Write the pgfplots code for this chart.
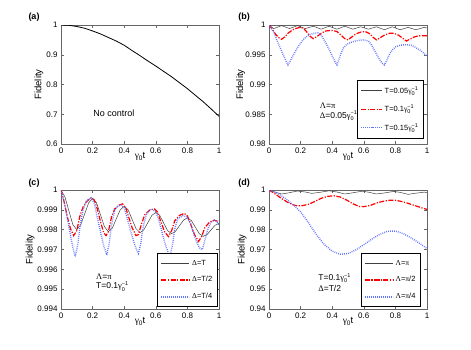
\documentclass[border=0pt]{standalone}
\usepackage{fontspec}
\setmainfont{Liberation Sans}
\newfontfamily\sym{Liberation Serif}
\usepackage{pgfplots}
\pgfplotsset{compat=1.18}

\newcommand{\ssz}{\fontsize{5.5}{6}\selectfont}
\newcommand{\ginv}{{\sym γ}\rlap{\raisebox{-0.5ex}{\ssz 0}}\raisebox{0.8ex}{\ssz −1}}
\definecolor{mblue}{RGB}{95,115,255}

\pgfplotsset{
  panel/.style={
    scale only axis, width=158pt, height=119pt, anchor=north west,
    xmin=0, xmax=1,
    xtick={0,0.2,0.4,0.6,0.8,1}, xticklabels={0,0.2,0.4,0.6,0.8,1},
    tick align=inside, major tick length=3pt,
    axis line style={black!60}, every tick/.style={black!60},
    tick label style={font=\fontsize{8}{9}\selectfont},
    label style={font=\fontsize{9.5}{10}\selectfont},
    xlabel={{\sym γ}\raisebox{-0.5ex}{\fontsize{6.5}{7}\selectfont 0}t}, ylabel={Fidelity},
    xlabel style={at={(axis description cs:0.5,-0.105)}, anchor=center},
    legend cell align=left,
    legend style={draw=none, fill=white, font=\fontsize{7.5}{9}\selectfont,
      row sep=6pt, inner ysep=4pt},
  },
  blk/.style={color=black!75, line width=0.5pt, solid},
  rd/.style={color=red, line width=1.2pt, dash pattern=on 5pt off 1.5pt on 1.2pt off 1.5pt},
  bl/.style={color=mblue, line width=1.4pt, dash pattern=on 0.8pt off 1.2pt},
}

\begin{document}
\begin{tikzpicture}
\path[use as bounding box] (0,0) rectangle (471pt,-349pt);

% (a)
\begin{axis}[panel, at={(61pt,-25pt)}, ymin=0.6, ymax=1,
  ytick={0.6,0.7,0.8,0.9,1}, yticklabels={0.6,0.7,0.8,0.9,1},
  ylabel style={at={(axis description cs:-0.14,0.5)}, anchor=center}]
\addplot[black, line width=0.8pt] coordinates {
(0,1.000) (0.05,0.999) (0.1,0.995) (0.15,0.989) (0.2,0.980) (0.25,0.970)
(0.3,0.958) (0.35,0.946) (0.4,0.932) (0.45,0.914) (0.5,0.897) (0.55,0.879)
(0.6,0.862) (0.65,0.844) (0.7,0.826) (0.75,0.806) (0.8,0.786) (0.85,0.764)
(0.9,0.742) (0.95,0.718) (1.0,0.693)};
\node[font=\fontsize{9}{10}\selectfont] at (axis cs:0.335,0.704) {No control};
\end{axis}

% (b)
\begin{axis}[panel, at={(269pt,-25pt)}, ymin=0.98, ymax=1,
  ytick={0.98,0.985,0.99,0.995,1}, yticklabels={0.98,0.985,0.99,0.995,1},
  ylabel style={at={(axis description cs:-0.18,0.5)}, anchor=center},
  legend style={at={(0.975,0.05)}, anchor=south east, name=Lb},
  legend image code/.code={\draw[mark repeat=2,mark phase=2,#1] plot coordinates {(0pt,0pt) (10.5pt,0pt) (21pt,0pt)};}]
\addplot[blk] coordinates {
(0,1.0000) (0.03,0.9994) (0.08,0.9999) (0.13,0.9994) (0.18,0.9999) (0.23,0.9994)
(0.28,0.9998) (0.33,0.9993) (0.38,0.9998) (0.43,0.9993) (0.48,0.9998) (0.53,0.9993)
(0.58,0.9997) (0.63,0.9993) (0.68,0.9997) (0.73,0.9992) (0.78,0.9997) (0.83,0.9992)
(0.88,0.9996) (0.93,0.9992) (0.98,0.9996) (1.0,0.9995)};
\addplot[rd] coordinates {
(0,1.0) (0.02,0.9993) (0.04,0.9985) (0.06,0.9979) (0.08,0.9976) (0.10,0.9980)
(0.12,0.9986) (0.15,0.9992) (0.18,0.9995) (0.20,0.9996) (0.22,0.9994) (0.24,0.9988)
(0.26,0.9981) (0.28,0.9977) (0.30,0.9980) (0.33,0.9986) (0.36,0.9990) (0.40,0.9991)
(0.43,0.9989) (0.46,0.9982) (0.48,0.9977) (0.50,0.9975) (0.52,0.9979) (0.55,0.9985)
(0.58,0.9988) (0.61,0.9989) (0.64,0.9985) (0.66,0.9979) (0.68,0.9975) (0.70,0.9978)
(0.73,0.9983) (0.76,0.9986) (0.79,0.9986) (0.82,0.9983) (0.85,0.9977) (0.87,0.9973)
(0.89,0.9976) (0.92,0.9980) (0.95,0.9982) (1.0,0.9982)};
\addplot[bl] coordinates {
(0,1.0000) (0.03,0.9988) (0.06,0.9968) (0.09,0.9950) (0.11,0.9938) (0.12,0.9933)
(0.135,0.9940) (0.155,0.9950) (0.185,0.9964) (0.215,0.9975) (0.245,0.9982)
(0.28,0.9986) (0.31,0.9987) (0.33,0.9983) (0.35,0.9974) (0.375,0.9962)
(0.40,0.9948) (0.42,0.9937) (0.43,0.9933) (0.44,0.9940) (0.455,0.9952)
(0.47,0.9961) (0.49,0.9967) (0.52,0.9971) (0.56,0.9974) (0.60,0.9975)
(0.63,0.9973) (0.65,0.9966) (0.67,0.9956) (0.695,0.9944) (0.715,0.9936)
(0.73,0.9933) (0.745,0.9940) (0.76,0.9950) (0.78,0.9958) (0.80,0.9963)
(0.83,0.9966) (0.87,0.9967) (0.90,0.9966) (0.93,0.9962) (0.96,0.9957) (1.0,0.9948)};
\legend{T=0.05\ginv, T=0.1\ginv, T=0.15\ginv}
\node[anchor=west, font=\fontsize{8.5}{10}\selectfont] at (axis cs:0.30,0.9864) {{\sym Λ}={\sym π}};
\node[anchor=west, font=\fontsize{8.5}{10}\selectfont] at (axis cs:0.30,0.9847) {{\sym Δ}=0.05\ginv};
\end{axis}
\draw[line width=0.9pt] (Lb.south west) rectangle (Lb.north east);

% (c)
\begin{axis}[panel, at={(61pt,-190pt)}, ymin=0.994, ymax=1,
  ytick={0.994,0.995,0.996,0.997,0.998,0.999,1},
  yticklabels={0.994,0.995,0.996,0.997,0.998,0.999,1},
  ylabel style={at={(axis description cs:-0.195,0.5)}, anchor=center},
  legend style={at={(0.99,0.02)}, anchor=south east, name=Lc},
  legend image code/.code={\draw[mark repeat=2,mark phase=2,#1] plot coordinates {(0pt,0pt) (14pt,0pt) (28pt,0pt)};}]
\addplot[blk] coordinates {
(0,1.0000) (0.025,0.99965) (0.05,0.99895) (0.075,0.99825) (0.1,0.9980)
(0.125,0.99825) (0.15,0.9988) (0.175,0.99935) (0.2,0.99958) (0.225,0.99935)
(0.25,0.99875) (0.275,0.99815) (0.3,0.9979) (0.325,0.99808) (0.35,0.99855)
(0.375,0.999) (0.4,0.99918) (0.425,0.999) (0.45,0.99852) (0.475,0.99805)
(0.5,0.99785) (0.525,0.998) (0.55,0.99836) (0.575,0.99872) (0.6,0.99887)
(0.625,0.99872) (0.65,0.99833) (0.675,0.99795) (0.7,0.9978) (0.725,0.99792)
(0.75,0.9982) (0.775,0.99848) (0.8,0.9986) (0.825,0.99846) (0.85,0.99813)
(0.875,0.9978) (0.9,0.99766) (0.925,0.99776) (0.95,0.99799) (0.975,0.99822)
(1.0,0.99832)};
\addplot[rd] coordinates {
(0,1.0) (0.02,0.9994) (0.04,0.99865) (0.06,0.99805) (0.08,0.9977) (0.1,0.99795)
(0.12,0.9987) (0.14,0.99915) (0.16,0.9994) (0.19,0.9996) (0.21,0.9995)
(0.23,0.99905) (0.25,0.9984) (0.27,0.99785) (0.285,0.9977) (0.30,0.9979)
(0.32,0.99865) (0.34,0.99905) (0.37,0.99925) (0.39,0.9993) (0.41,0.9991)
(0.43,0.9986) (0.45,0.9981) (0.475,0.9977) (0.49,0.99775) (0.51,0.9983)
(0.53,0.99875) (0.56,0.99898) (0.59,0.99905) (0.61,0.9989) (0.63,0.99845)
(0.655,0.9979) (0.68,0.99765) (0.70,0.99795) (0.72,0.99845) (0.75,0.99872)
(0.78,0.99882) (0.80,0.9987) (0.82,0.9983) (0.845,0.99775) (0.87,0.9974)
(0.89,0.99765) (0.91,0.9981) (0.94,0.99838) (0.97,0.99848) (1.0,0.9984)};
\addplot[bl] coordinates {
(0,1.0) (0.02,0.9994) (0.04,0.99855) (0.06,0.99775) (0.075,0.9971) (0.09,0.99665)
(0.105,0.9972) (0.12,0.99815) (0.14,0.9990) (0.16,0.99945) (0.19,0.9996)
(0.21,0.99935) (0.23,0.9986) (0.25,0.9979) (0.27,0.9972) (0.29,0.99672)
(0.305,0.9973) (0.32,0.99825) (0.34,0.999) (0.36,0.9992) (0.38,0.99924)
(0.40,0.9991) (0.42,0.99855) (0.44,0.99795) (0.46,0.9974) (0.48,0.99695)
(0.49,0.9968) (0.505,0.9973) (0.52,0.99815) (0.54,0.99875) (0.56,0.999)
(0.58,0.99902) (0.60,0.9989) (0.62,0.99845) (0.64,0.99785) (0.66,0.99725)
(0.68,0.9968) (0.69,0.9967) (0.705,0.9972) (0.72,0.99805) (0.74,0.99855)
(0.77,0.9987) (0.795,0.99866) (0.82,0.9983) (0.84,0.9978) (0.86,0.99735)
(0.88,0.99705) (0.895,0.9970) (0.91,0.99745) (0.93,0.99805) (0.95,0.99838)
(0.975,0.99849) (1.0,0.99825)};
\legend{{\sym Δ}=T, {\sym Δ}=T/2, {\sym Δ}=T/4}
\node[anchor=west, font=\fontsize{8.5}{10}\selectfont] at (axis cs:0.2,0.99562) {{\sym Λ}={\sym π}};
\node[anchor=west, font=\fontsize{8.5}{10}\selectfont] at (axis cs:0.2,0.99514) {T=0.1\ginv};
\end{axis}
\draw[line width=0.9pt] (Lc.south west) rectangle (Lc.north east);

% (d)
\begin{axis}[panel, at={(269pt,-190pt)}, ymin=0.94, ymax=1,
  ytick={0.94,0.95,0.96,0.97,0.98,0.99,1},
  yticklabels={0.94,0.95,0.96,0.97,0.98,0.99,1},
  ylabel style={at={(axis description cs:-0.17,0.5)}, anchor=center},
  legend style={at={(0.96,0.02)}, anchor=south east, name=Ld},
  legend image code/.code={\draw[mark repeat=2,mark phase=2,#1] plot coordinates {(0pt,0pt) (14pt,0pt) (28pt,0pt)};}]
\addplot[blk] coordinates {
(0,1.0) (0.04,0.9989) (0.08,0.9980) (0.12,0.9985) (0.18,0.9995) (0.23,0.9990)
(0.27,0.9983) (0.32,0.9988) (0.38,0.9996) (0.43,0.9990) (0.48,0.9980) (0.53,0.9986)
(0.59,0.9994) (0.63,0.9989) (0.68,0.9980) (0.73,0.9985) (0.79,0.9993) (0.83,0.9988)
(0.88,0.9978) (0.93,0.9984) (0.98,0.9989) (1.0,0.9988)};
\addplot[rd] coordinates {
(0,1.0) (0.03,0.9985) (0.06,0.9968) (0.09,0.9952) (0.12,0.9937) (0.15,0.9926)
(0.18,0.9920) (0.21,0.9921) (0.25,0.9928) (0.29,0.9942) (0.33,0.9958) (0.37,0.9968)
(0.41,0.9971) (0.45,0.9965) (0.49,0.9950) (0.53,0.9931) (0.57,0.9917) (0.60,0.9916)
(0.64,0.9922) (0.68,0.9934) (0.72,0.9943) (0.76,0.9948) (0.80,0.9948) (0.84,0.9942)
(0.88,0.9933) (0.92,0.9922) (0.96,0.9912) (1.0,0.9902)};
\addplot[bl] coordinates {
(0,1.0) (0.05,0.9985) (0.1,0.9960) (0.15,0.9928) (0.2,0.9890) (0.25,0.9835)
(0.3,0.9775) (0.35,0.9725) (0.4,0.9692) (0.45,0.9676) (0.5,0.9680) (0.55,0.9698)
(0.6,0.9724) (0.65,0.9752) (0.7,0.9776) (0.75,0.9792) (0.8,0.9793) (0.85,0.9780)
(0.9,0.9758) (0.95,0.9733) (1.0,0.9705)};
\legend{{\sym Λ}={\sym π}, {\sym Λ}={\sym π}/2, {\sym Λ}={\sym π}/4}
\node[anchor=west, font=\fontsize{8.5}{10}\selectfont] at (axis cs:0.29,0.9556) {T=0.1\ginv};
\node[anchor=west, font=\fontsize{8.5}{10}\selectfont] at (axis cs:0.29,0.9505) {{\sym Δ}=T/2};
\end{axis}
\draw[line width=0.9pt] (Ld.south west) rectangle (Ld.north east);

\node[font=\bfseries\fontsize{9}{10}\selectfont] at (34pt,-17pt) {(a)};
\node[font=\bfseries\fontsize{9}{10}\selectfont] at (244pt,-17pt) {(b)};
\node[font=\bfseries\fontsize{9}{10}\selectfont] at (34pt,-183pt) {(c)};
\node[font=\bfseries\fontsize{9}{10}\selectfont] at (244pt,-183pt) {(d)};
\end{tikzpicture}
\end{document}
